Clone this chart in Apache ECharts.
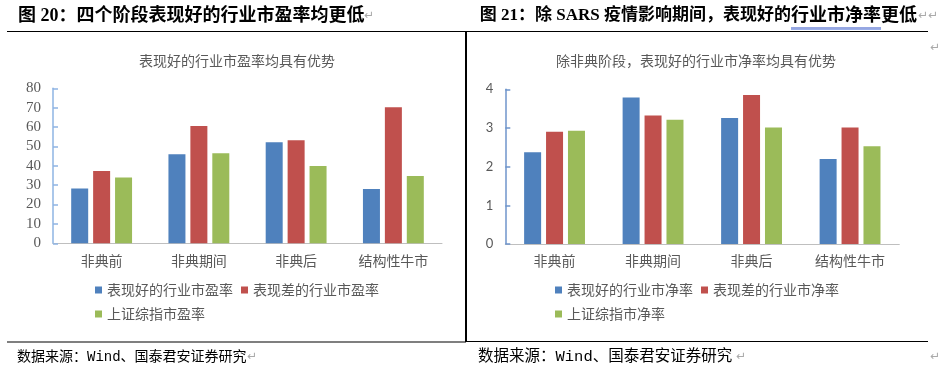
<!DOCTYPE html>
<html>
<head>
<meta charset="utf-8">
<script src="https://cdn.jsdelivr.net/npm/echarts@6/dist/echarts.min.js"></script>
<style>
html,body{margin:0;padding:0;background:#fff;}
#c{width:939px;height:372px;}
</style>
</head>
<body>
<div id="c"></div>
<script>
// ---- data ----
const categories = ['非典前', '非典期间', '非典后', '结构性牛市'];
const peSeriesNames = ['表现好的行业市盈率', '表现差的行业市盈率', '上证综指市盈率'];
const peGood = [28.3, 45.9, 52.1, 28.0];
const peBad = [37.3, 60.6, 53.2, 70.2];
const peIndex = [33.9, 46.5, 39.9, 34.8];
const pbSeriesNames = ['表现好的行业市净率', '表现差的行业市净率', '上证综指市净率'];
const pbGood = [2.37, 3.79, 3.26, 2.20];
const pbBad = [2.90, 3.32, 3.85, 3.01];
const pbIndex = [2.93, 3.21, 3.01, 2.53];
const peAxis = { min: 0, max: 80, interval: 10 };
const pbAxis = { min: 0, max: 4, interval: 1 };
const leftHeader = '图 20：四个阶段表现好的行业市盈率均更低';
const rightHeaderA = '图 21：除 SARS 疫情影响期间，表现好的';
const rightHeaderB = '行业市净率';
const rightHeaderC = '更低';
const leftSubtitle = '表现好的行业市盈率均具有优势';
const rightSubtitle = '除非典阶段，表现好的行业市净率均具有优势';
const sourceText = '数据来源：Wind、国泰君安证券研究';

// ---- styles ----
const colors = ['#4F81BD', '#C0504D', '#9BBB59'];
const CJK = '"Noto Sans CJK SC"';
const gray = '#595959';
const headFont = 'bold 18px "Liberation Serif", ' + CJK;
const headFontA = 'bold 17px "Liberation Serif", ' + CJK;
const arrowFont = '12px "DejaVu Sans"';

const chart = echarts.init(document.getElementById('c'), null, { renderer: 'canvas' });

function barSeries(name, data, idx, colorIdx) {
  return {
    type: 'bar', name: name, data: data,
    xAxisIndex: idx, yAxisIndex: idx,
    barWidth: 17, barGap: '29%',
    itemStyle: { color: colors[colorIdx] },
    emphasis: { disabled: true },
    animation: false
  };
}

function xAxis(idx) {
  return {
    type: 'category', gridIndex: idx, data: categories,
    axisLine: { lineStyle: { color: '#BFBFBF', width: 1 } },
    axisTick: { show: false },
    axisLabel: { color: gray, fontFamily: CJK, fontSize: 14, margin: 10 }
  };
}

function legend(names, left, top) {
  return {
    data: names, left: left, top: top, itemWidth: 7, itemHeight: 7, itemGap: 8,
    icon: 'rect', selectedMode: false, padding: 0,
    textStyle: { color: gray, fontFamily: CJK, fontSize: 14 }
  };
}

function txt(x, y, text, font, fill, align) {
  return { type: 'text', x: x, y: y, style: { text: text, font: font, fill: fill, textAlign: align || 'left', textVerticalAlign: 'middle' } };
}

function ln(x1, y1, x2, y2, stroke, w) {
  return { type: 'line', shape: { x1: x1, y1: y1, x2: x2, y2: y2 }, style: { stroke: stroke, lineWidth: w } };
}

const option = {
  animation: false,
  grid: [
    { left: 53, top: 88.3, width: 389, height: 155 },
    { left: 505.3, top: 89.3, width: 394, height: 154.7 }
  ],
  xAxis: [xAxis(0), xAxis(1)],
  yAxis: [
    {
      type: 'value', gridIndex: 0, min: peAxis.min, max: peAxis.max, interval: peAxis.interval,
      splitLine: { show: false },
      axisLine: { show: true, lineStyle: { color: '#8EB4E3', width: 1.5 } },
      axisTick: { show: true, inside: true, length: 5, lineStyle: { color: '#8EB4E3', width: 1.5 } },
      axisLabel: { color: gray, fontFamily: '"Liberation Serif"', fontSize: 15, margin: 12 }
    },
    {
      type: 'value', gridIndex: 1, min: pbAxis.min, max: pbAxis.max, interval: pbAxis.interval,
      splitLine: { show: false },
      axisLine: { show: true, lineStyle: { color: '#6F95CB', width: 1.5 } },
      axisTick: { show: true, inside: true, length: 5, lineStyle: { color: '#6F95CB', width: 1.5 } },
      axisLabel: { color: gray, fontFamily: 'Lato', fontSize: 13, margin: 12 }
    }
  ],
  legend: [
    legend([peSeriesNames[0], peSeriesNames[1]], 95, 283),
    legend([peSeriesNames[2]], 95, 307),
    legend([pbSeriesNames[0], pbSeriesNames[1]], 555, 283),
    legend([pbSeriesNames[2]], 555, 307)
  ],
  series: [
    barSeries(peSeriesNames[0], peGood, 0, 0),
    barSeries(peSeriesNames[1], peBad, 0, 1),
    barSeries(peSeriesNames[2], peIndex, 0, 2),
    barSeries(pbSeriesNames[0], pbGood, 1, 0),
    barSeries(pbSeriesNames[1], pbBad, 1, 1),
    barSeries(pbSeriesNames[2], pbIndex, 1, 2)
  ],
  graphic: [
    // headers
    txt(18, 16, leftHeader, headFont, '#000'),
    txt(364, 16, '↵', arrowFont, '#aaa'),
    txt(791, 16, rightHeaderA, headFontA, '#000', 'right'),
    txt(791, 16, rightHeaderB, headFont, '#000'),
    txt(881, 16, rightHeaderC, headFont, '#000'),
    txt(918, 16, '↵↵', arrowFont, '#aaa'),
    txt(930, 48, '↵', arrowFont, '#aaa'),
    ln(791, 28, 881, 28, '#2C4FC4', 1),
    ln(791, 29.5, 881, 29.5, '#9AAEE8', 1),
    // frames
    ln(7, 31.5, 466, 31.5, '#000', 1.2),
    ln(466, 31.5, 928, 31.5, '#000', 1.2),
    ln(466, 31, 466, 342, '#000', 2),
    ln(7, 342, 466, 342, '#000', 1.2),
    ln(466, 341.5, 928, 341.5, '#000', 1.2),
    // subtitles
    txt(237, 61, leftSubtitle, '14px ' + CJK, gray, 'center'),
    txt(696, 61, rightSubtitle, '14px ' + CJK, gray, 'center'),
    // sources
    txt(17, 357, sourceText, '14px "Liberation Mono", ' + CJK, '#000'),
    txt(247, 357, '↵', arrowFont, '#aaa'),
    txt(478, 357, sourceText, '15.5px "Liberation Mono", ' + CJK, '#000'),
    txt(736, 357, '↵', arrowFont, '#aaa'),
    txt(930, 357, '↵', arrowFont, '#aaa')
  ]
};
chart.setOption(option);
</script>
</body>
</html>
